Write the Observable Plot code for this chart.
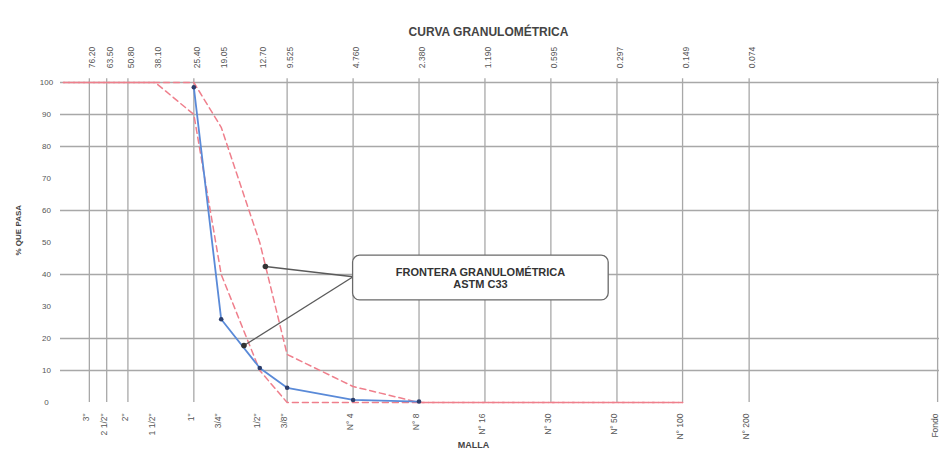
<!DOCTYPE html>
<html>
<head>
<meta charset="utf-8">
<script src="https://cdn.jsdelivr.net/npm/d3@7"></script>
<script src="https://cdn.jsdelivr.net/npm/@observablehq/plot@0.6"></script>
<style>
  html, body { margin: 0; padding: 0; background: #fff; }
  #chart svg { display: block; }
</style>
</head>
<body>
<div id="chart"></div>
<script>
// Sieve openings (mm) and labels
const sieveMm = [76.2, 63.5, 50.8, 38.1, 25.4, 19.05, 12.7, 9.525, 4.76, 2.38, 1.19, 0.595, 0.297, 0.149, 0.074, 0.0102];
const topLabels = ["76.20", "63.50", "50.80", "38.10", "25.40", "19.05", "12.70", "9.525", "4.760", "2.380", "1.190", "0.595", "0.297", "0.149", "0.074", ""];
const bottomLabels = ['3"', '2 1/2"', '2"', '1 1/2"', '1"', '3/4"', '1/2"', '3/8"', "N° 4", "N° 8", "N° 16", "N° 30", "N° 50", "N° 100", "N° 200", "Fondo"];

// Grid lines that appear in the reference
const gridSieveMm = [76.2, 63.5, 50.8, 25.4, 9.525, 4.76, 2.38, 1.19, 0.595, 0.297, 0.149, 0.074, 0.0102];
const gridPct = [100, 90, 80, 60, 40, 20, 10];
const yTicks = [0, 10, 20, 30, 40, 50, 60, 70, 80, 90, 100];

// Sample gradation (blue)
const sampleMm = [25.4, 19.05, 12.7, 9.525, 4.76, 2.38];
const samplePass = [98.5, 26, 10.8, 4.6, 0.8, 0.3];

// ASTM C33 limits (red dashed)
const limitMm = [100, 76.2, 63.5, 50.8, 38.1, 25.4, 19.05, 12.7, 9.525, 4.76, 2.38, 1.19, 0.595, 0.297, 0.149];
const upperPass = [100, 100, 100, 100, 100, 100, 86, 50, 15, 5, 0, 0, 0, 0, 0];
const lowerPass = [100, 100, 100, 100, 100, 90, 40, 10, 0, 0, 0, 0, 0, 0, 0];

// Annotation
const noteText = "FRONTERA GRANULOMÉTRICA\nASTM C33";
const noteBox = {x1: 4.76, x2: 0.324, y1: 31.9, y2: 45.9};
const noteAnchor = {x: 4.76, y: 39.3};
const noteLabelPos = {x: 1.247, y: 38.9};
const arrowTargets = [{x: 11.97, y: 42.5}, {x: 15.0, y: 17.8}];

const sample = sampleMm.map((x, i) => ({x, y: samplePass[i]}));
const upper = limitMm.map((x, i) => ({x, y: upperPass[i]}));
const lower = limitMm.map((x, i) => ({x, y: lowerPass[i]}));
const sieves = sieveMm.map((x, i) => ({x, top: topLabels[i], bottom: bottomLabels[i]}));
const arrows = arrowTargets.map(t => ({x1: noteAnchor.x, y1: noteAnchor.y, x2: t.x, y2: t.y}));

const font = "'Liberation Sans', Arial, sans-serif";
const ink = "#3a3a3a";

const chart = Plot.plot({
  width: 942,
  height: 453,
  marginLeft: 63,
  marginRight: 3,
  marginTop: 82,
  marginBottom: 51,
  x: {type: "log", domain: [100, 0.01], axis: null},
  y: {domain: [0, 100], axis: null},
  style: {fontFamily: font, background: "#fff", color: ink},
  marks: [
    // horizontal grid
    Plot.ruleY(gridPct, {stroke: "#a8a8a8", strokeWidth: 1.3, insetLeft: -3}),
    // vertical grid
    Plot.ruleX(gridSieveMm, {y1: 0, y2: 101.2, stroke: "#a8a8a8", strokeWidth: 1.3}),
    // y tick labels
    Plot.text(yTicks, {y: d => d, text: d => String(d), frameAnchor: "left", dx: -17, textAnchor: "middle", fontSize: 8, fill: "#555"}),
    // y title
    Plot.text(["% QUE PASA"], {frameAnchor: "left", dx: -45, dy: 13, rotate: -90, fontSize: 8, fontWeight: "bold", fill: "#444"}),
    // top labels (mm)
    Plot.text(sieves, {x: "x", text: "top", frameAnchor: "top", dy: -25, rotate: -90, textAnchor: "middle", fontSize: 8.5, fill: "#555"}),
    // bottom labels
    Plot.text(sieves, {x: "x", text: "bottom", frameAnchor: "bottom", dy: 11, rotate: -90, textAnchor: "end", fontSize: 8.5, fill: "#555"}),
    // title
    Plot.text(["CURVA GRANULOMÉTRICA"], {frameAnchor: "top", dx: -13, dy: -55, fontSize: 12, fontWeight: "bold", fill: "#444", letterSpacing: 1}),
    // x title
    Plot.text(["MALLA"], {frameAnchor: "bottom", dx: -28, dy: 45, fontSize: 9, fontWeight: "bold", fill: "#444"}),
    // limits
    Plot.line(upper, {x: "x", y: "y", stroke: "#ef7f8c", strokeWidth: 1.5, strokeDasharray: "6,4"}),
    Plot.line(lower, {x: "x", y: "y", stroke: "#ef7f8c", strokeWidth: 1.5, strokeDasharray: "6,4", strokeDashoffset: 5}),
    // sample
    Plot.line(sample, {x: "x", y: "y", stroke: "#5a8ad8", strokeWidth: 1.8}),
    Plot.dot(sample, {x: "x", y: "y", r: 2.3, fill: "#2c3e6b"}),
    // annotation
    Plot.link(arrows, {x1: "x1", y1: "y1", x2: "x2", y2: "y2", stroke: "#5a5a5a", strokeWidth: 1.3}),
    Plot.dot(arrowTargets, {x: "x", y: "y", r: 2.8, fill: "#333"}),
    Plot.rect([noteBox], {x1: "x1", x2: "x2", y1: "y1", y2: "y2", fill: "#fff", stroke: "#6a6a6a", strokeWidth: 1.3, rx: 7}),
    Plot.text([noteLabelPos], {x: "x", y: "y", text: () => noteText, fontSize: 11, fontWeight: "bold", fill: "#333", lineHeight: 1.15})
  ]
});
document.getElementById("chart").appendChild(chart);
</script>
</body>
</html>
